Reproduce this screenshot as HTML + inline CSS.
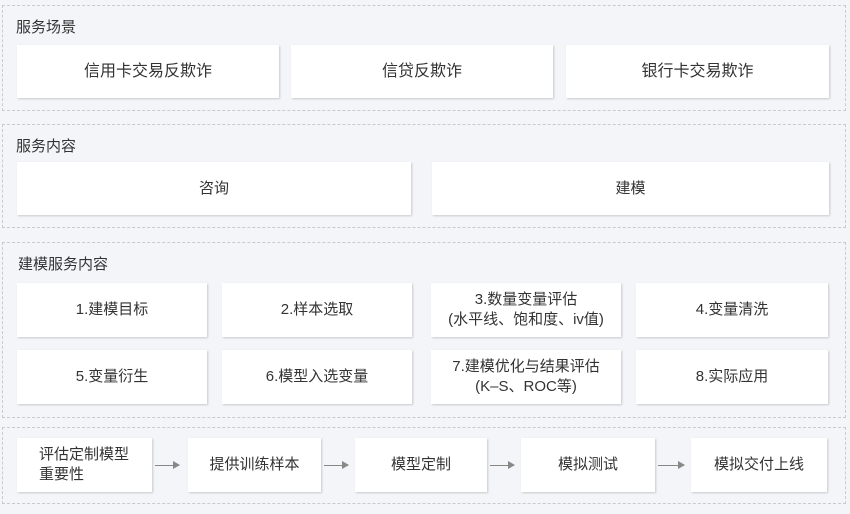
<!DOCTYPE html>
<html><head><meta charset="utf-8"><style>
body{margin:0;width:850px;height:514px;background:#f4f5f9;position:relative;overflow:hidden;font-family:"Liberation Sans","Noto Sans CJK SC",sans-serif;color:#333}
.sec{position:absolute;border:1px dashed #c8cad0;box-sizing:border-box}
.t{position:absolute;font-size:15px;color:#333}
.b{position:absolute;background:#fff;box-shadow:1px 1px 2px rgba(0,0,0,0.18);display:flex;align-items:center;justify-content:center;text-align:center;font-size:15px;line-height:20px;box-sizing:border-box}
.b16{font-size:16px}
.ar{position:absolute;height:1px;background:#888}
.ar:after{content:"";position:absolute;right:-1px;top:-4px;border-left:7px solid #888;border-top:4.5px solid transparent;border-bottom:4.5px solid transparent}
</style></head><body>
<div class="sec" style="left:2px;top:5px;width:844px;height:106px"></div>
<div class="t" style="left:16px;top:16px">服务场景</div>
<div class="b b16" style="left:17px;top:45px;width:262px;height:53px">信用卡交易反欺诈</div>
<div class="b b16" style="left:291px;top:45px;width:262px;height:53px">信贷反欺诈</div>
<div class="b b16" style="left:566px;top:45px;width:263px;height:53px">银行卡交易欺诈</div>

<div class="sec" style="left:2px;top:124px;width:844px;height:104px"></div>
<div class="t" style="left:16px;top:135px">服务内容</div>
<div class="b" style="left:17px;top:162px;width:394px;height:53px">咨询</div>
<div class="b" style="left:432px;top:162px;width:397px;height:53px">建模</div>

<div class="sec" style="left:2px;top:242px;width:844px;height:176px"></div>
<div class="t" style="left:18px;top:253px">建模服务内容</div>
<div class="b" style="left:17px;top:283px;width:190px;height:54px">1.建模目标</div>
<div class="b" style="left:222px;top:283px;width:190px;height:54px">2.样本选取</div>
<div class="b" style="left:431px;top:283px;width:190px;height:54px">3.数量变量评估<br>(水平线、饱和度、iv值)</div>
<div class="b" style="left:636px;top:283px;width:192px;height:54px">4.变量清洗</div>
<div class="b" style="left:17px;top:350px;width:190px;height:54px">5.变量衍生</div>
<div class="b" style="left:222px;top:350px;width:190px;height:54px">6.模型入选变量</div>
<div class="b" style="left:431px;top:350px;width:190px;height:54px">7.建模优化与结果评估<br>(K–S、ROC等)</div>
<div class="b" style="left:636px;top:350px;width:192px;height:54px">8.实际应用</div>

<div class="sec" style="left:2px;top:427px;width:844px;height:77px"></div>
<div class="b" style="left:17px;top:438px;width:135px;height:54px;justify-content:flex-start;text-align:left;padding-left:22px">评估定制模型<br>重要性</div>
<div class="b" style="left:188px;top:438px;width:133px;height:54px">提供训练样本</div>
<div class="b" style="left:355px;top:438px;width:132px;height:54px">模型定制</div>
<div class="b" style="left:521px;top:438px;width:134px;height:54px">模拟测试</div>
<div class="b" style="left:691px;top:438px;width:136px;height:54px">模拟交付上线</div>
<div class="ar" style="left:155px;top:465px;width:24px"></div>
<div class="ar" style="left:324px;top:465px;width:24px"></div>
<div class="ar" style="left:490px;top:465px;width:24px"></div>
<div class="ar" style="left:658px;top:465px;width:26px"></div>
</body></html>
